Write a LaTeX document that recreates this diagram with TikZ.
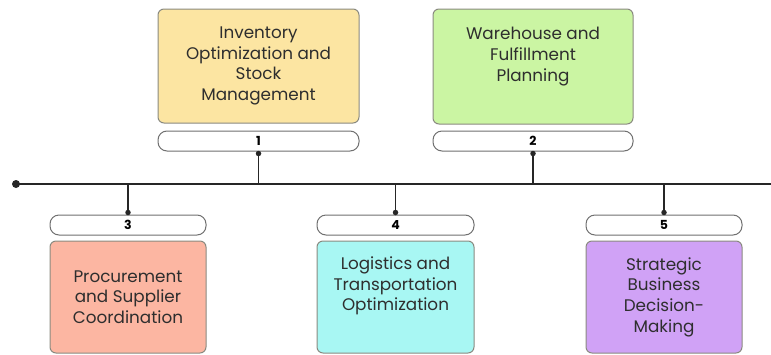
\documentclass[tikz,border=0pt]{standalone}
\usepackage{fontspec}
\setmainfont{Poppins}
\definecolor{boxline}{HTML}{8A8A80}
\definecolor{pillline}{HTML}{707070}
\definecolor{ink}{HTML}{2E2E2E}
\definecolor{fillyellow}{HTML}{FCE5A2}
\definecolor{fillgreen}{HTML}{CBF5A3}
\definecolor{fillsalmon}{HTML}{FCB6A2}
\definecolor{fillcyan}{HTML}{A8F7F3}
\definecolor{fillpurple}{HTML}{D0A2F6}
\begin{document}
\begin{tikzpicture}[x=1pt,y=-1pt,
  topic/.style={draw=boxline, line width=1pt, rounded corners=6pt,
    text=ink, align=center, inner sep=0pt,
    font=\fontsize{16.8}{20.7}\selectfont},
  numtag/.style={draw=pillline, fill=white, line width=1pt, rounded corners=9pt,
    minimum height=20pt, inner sep=0pt, text=black,
    font=\bfseries\fontsize{12.5}{14}\selectfont},
  stem/.style={draw=black!85, line width=1.6pt},
  knob/.style={fill=black!85, circle, inner sep=0pt, minimum size=5.5pt}]
\useasboundingbox (0,0) rectangle (771,354);

% main timeline
\coordinate (lineL) at (16,184);
\coordinate (lineR) at (771,184);
\draw[black!85, line width=2pt] (lineL) -- (lineR);
\node[knob, minimum size=8pt] at (lineL) {};

% upper topics
\node[topic, fill=fillyellow, minimum width=201pt, minimum height=114pt] (b1) at (258.5,66)
  {Inventory\\Optimization and\\Stock\\Management};
\node[numtag, minimum width=201pt] (p1) at (258.5,141) {1};

\node[topic, fill=fillgreen, minimum width=200pt, minimum height=115pt] (b2) at (533,66.5)
  {Warehouse and\\Fulfillment\\Planning\\[4pt]};
\node[numtag, minimum width=200pt] (p2) at (533,141) {2};

% lower topics
\node[numtag, minimum width=156pt] (p3) at (128,225) {3};
\node[topic, fill=fillsalmon, minimum width=156pt, minimum height=112pt] (b3) at (128,297)
  {Procurement\\and Supplier\\Coordination};

\node[numtag, minimum width=157pt] (p4) at (395.5,225) {4};
\node[topic, fill=fillcyan, minimum width=157pt, minimum height=112pt] (b4) at (395.5,297)
  {Logistics and\\Transportation\\Optimization\\[6pt]};

\node[numtag, minimum width=156pt] (p5) at (664,225) {5};
\node[topic, fill=fillpurple, minimum width=156pt, minimum height=112pt] (b5) at (664,297)
  {Strategic\\Business\\Decision-\\Making};

% stems from tags to the timeline
\foreach \p in {p1,p2} {
  \draw[stem] (\p.south) -- (\p.south |- lineL);
  \node[knob] at ([yshift=-2pt]\p.south) {};
}
\foreach \p in {p3,p4,p5} {
  \draw[stem] (\p.north) -- (\p.north |- lineL);
  \node[knob] at ([yshift=2pt]\p.north) {};
}
\end{tikzpicture}
\end{document}
